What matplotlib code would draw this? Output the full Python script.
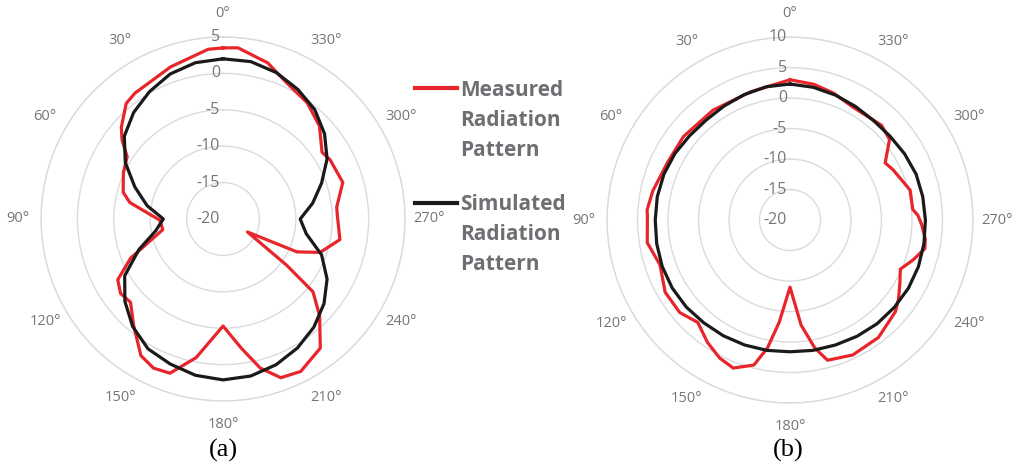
import numpy as np
import matplotlib
matplotlib.use("Agg")
import matplotlib.pyplot as plt
from matplotlib.lines import Line2D
from matplotlib.transforms import ScaledTranslation

# ---- data (dB vs angle in degrees) ----
# (a) measured, read at the polyline vertices
ang_meas_a = [0, 5, 19, 35, 40, 48, 52, 57, 65, 75, 80, 91, 100, 113, 120, 126, 132,
              140, 149, 155, 161, 169, 180, 188, 194, 200, 207, 217, 225, 231, 234,
              242, 246, 251, 260, 272, 276, 287, 299, 304, 314, 324, 335, 344, 355, 360]
meas_a = [3.5, 3.4, 2.1, 1.1, 0.7, -1.2, -2.4, -4.3, -4.9, -5.8, -7.0, -11.3, -11.6,
          -6.2, -3.3, -2.6, -2.9, -0.9, 1.9, 2.6, 2.4, -0.6, -5.3, -2.1, 1.1, 3.2, 3.5,
          2.2, -1.25, -4.1, -9.2, -16.2, -8.9, -5.9, -3.7, -4.3, -4.3, -2.8, -3.2, -3.6,
          -1.6, -0.3, 0.65, 2.3, 3.6, 3.5]

# (a) simulated, every 10 degrees
ang_sim = list(range(0, 361, 10))
sim_a = [2.0, 1.8, 1.2, 0.2, -0.9, -2.3, -4.5, -7.1, -9.4, -11.8, -10.6, -7.7, -4.4,
         -2.4, -0.7, 0.6, 1.2, 1.8, 2.1, 1.9, 1.3, 0.45, -0.6, -1.9, -3.5, -5.6, -8.4,
         -9.4, -7.5, -5.6, -3.5, -1.8, -0.4, 0.55, 1.4, 1.95, 2.0]

# (b) measured
ang_meas_b = [0, 17, 35, 52, 65, 78, 86, 88, 99, 109, 120, 130, 138, 146, 153, 159, 166,
              170, 174, 180, 186, 191, 195, 205, 217, 229, 234, 240, 246, 252, 258, 262,
              268, 272, 275, 284, 296, 301, 309, 316, 331, 341, 350, 360]
meas_b = [3.0, 2.0, 2.0, 2.2, 2.2, 3.0, 3.5, 3.4, 3.7, 2.55, 3.65, 3.6, 2.6, 4.2, 5.4,
          6.0, 4.5, 1.3, -3.2, -9.0, -2.7, 1.4, 3.8, 4.4, 4.1, 2.9, 2.0, 0.8, -0.2, 1.2,
          2.6, 2.4, 1.6, 1.0, 0.2, 0.3, -1.2, -1.8, 1.0, 1.6, 1.2, 2.0, 2.6, 3.0]

# (b) simulated, every 10 degrees
sim_b = [2.3, 2.2, 1.9, 1.6, 1.4, 1.5, 1.8, 2.0, 2.1, 2.1, 2.2, 2.3, 2.3, 2.2, 2.0, 1.9,
         1.8, 1.7, 1.6, 1.7, 1.8, 2.0, 2.2, 2.3, 2.4, 2.4, 2.3, 2.2, 2.1, 2.0, 1.7, 1.4,
         1.3, 1.5, 1.8, 2.1, 2.3]

angle_ticks = list(range(0, 360, 30))
angle_labels = [f"{a}°" for a in angle_ticks]

RED = "#e8252b"
BLACK = "#1a1a1a"
GRID = "#d9dbdf"
TXT = "#767676"

fig = plt.figure(figsize=(10.18, 4.62), dpi=100)


def polar_panel(rect, r_ticks, label_dx):
    ax = fig.add_axes(rect, projection="polar")
    ax.set_theta_zero_location("N")
    ax.set_theta_direction(1)
    ax.set_ylim(r_ticks[0], r_ticks[-1])
    ax.set_yticks(r_ticks)
    ax.set_yticklabels([])
    ax.yaxis.grid(True, color=GRID, lw=1.0)
    ax.xaxis.grid(False)
    ax.set_thetagrids(angle_ticks, angle_labels)
    ax.tick_params(axis="x", pad=6.5, colors=TXT, labelsize=10.5)
    for lbl in ax.get_xticklabels():
        lbl.set_fontfamily("Open Sans")
    ax.spines["polar"].set_color(GRID)
    ax.spines["polar"].set_linewidth(1.0)
    off = ax.transData + ScaledTranslation(label_dx, 0, fig.dpi_scale_trans)
    for r in r_ticks:
        ax.text(0, r, str(r), transform=off, ha="right", va="center",
                fontsize=11.5, color=TXT, family="Open Sans")
    return ax


ax1 = polar_panel([0.0403, 0.132, 0.3576, 0.788], [-20, -15, -10, -5, 0, 5], -0.03)
ax1.plot(np.deg2rad(ang_meas_a), meas_a, color=RED, lw=2.3, zorder=3)
ax1.plot(np.deg2rad(ang_sim), sim_a, color=BLACK, lw=2.3, zorder=4)

ax2 = polar_panel([0.5963, 0.1277, 0.3595, 0.792], [-20, -15, -10, -5, 0, 5, 10], -0.03)
ax2.plot(np.deg2rad(ang_meas_b), meas_b, color=RED, lw=2.3, zorder=3)
ax2.plot(np.deg2rad(ang_sim), sim_b, color=BLACK, lw=2.3, zorder=4)

# legend between the panels
W, H = 1018, 462
legend_items = [(RED, ["Measured", "Radiation", "Pattern"], 88),
                (BLACK, ["Simulated", "Radiation", "Pattern"], 203)]
for col, lines, y0 in legend_items:
    fig.add_artist(Line2D([415 / W, 457 / W], [1 - y0 / H, 1 - y0 / H], color=col, lw=3))
    for i, s in enumerate(lines):
        yb = y0 + 7.5 + i * 30
        fig.text(460 / W, 1 - yb / H, s, ha="left", va="baseline", fontsize=15,
                 fontweight="bold", color="#6d6f72", family="Open Sans")

fig.text(223 / W, 1 - 450 / H, "(a)", ha="center", va="center", fontsize=19,
         family="Liberation Serif")
fig.text(788 / W, 1 - 450 / H, "(b)", ha="center", va="center", fontsize=19,
         family="Liberation Serif")

fig.savefig("out.png", dpi=100)
